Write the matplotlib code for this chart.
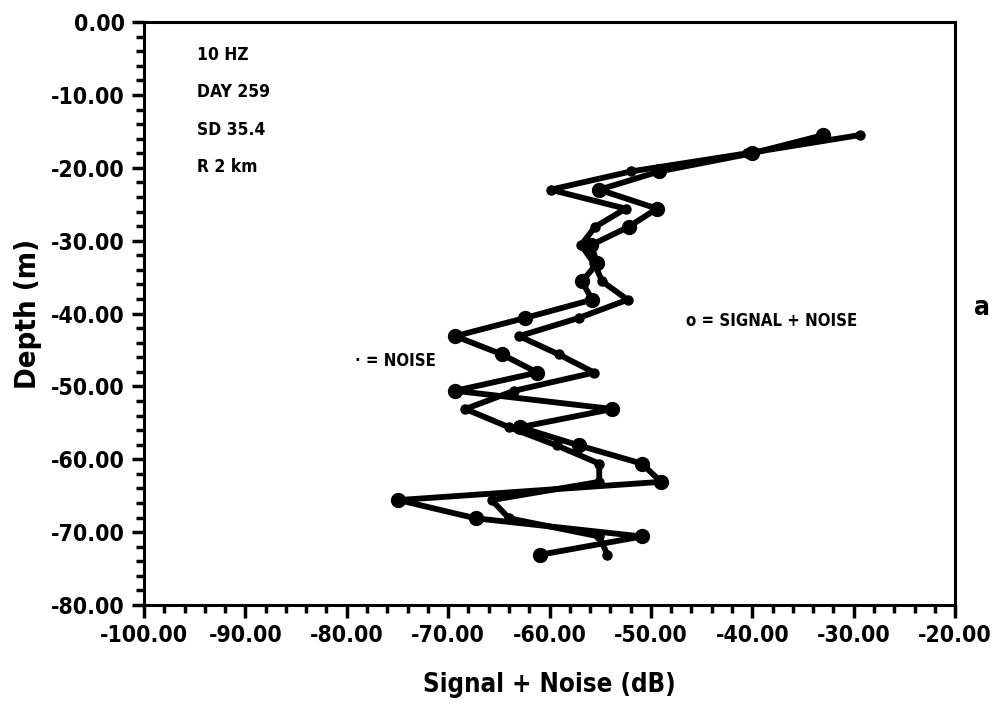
import numpy as np
import matplotlib
matplotlib.use('Agg')
import matplotlib.pyplot as plt
from matplotlib.ticker import MultipleLocator, FormatStrFormatter

plt.rcParams['font.family'] = ['DejaVu Sans']
plt.rcParams['font.stretch'] = 'condensed'
plt.rcParams['font.weight'] = 'bold'
plt.rcParams['axes.labelweight'] = 'bold'

# depth of each measurement (m)
depth = [-15.5, -18.0, -20.5, -23.0, -25.6, -28.1, -30.6, -33.1, -35.6, -38.1,
         -40.6, -43.1, -45.6, -48.1, -50.6, -53.1, -55.6, -58.1, -60.6, -63.1,
         -65.6, -68.1, -70.6, -73.1]

# signal + noise level (dB), big dots
signal = [-33.0, -40.0, -49.2, -55.1, -49.4, -52.2, -55.9, -55.3, -56.8, -55.8,
          -62.4, -69.3, -64.7, -61.2, -69.3, -53.8, -62.9, -57.1, -50.9, -49.0,
          -74.9, -67.3, -50.9, -60.9]

# noise level (dB), small dots
noise = [-29.4, -40.5, -52.0, -59.9, -52.5, -55.5, -56.9, -55.6, -54.8, -52.3,
         -57.1, -63.0, -59.1, -55.6, -63.5, -68.3, -64.0, -59.3, -55.1, -55.1,
         -65.7, -64.0, -55.1, -54.3]

info = ['10 HZ', 'DAY 259', 'SD 35.4', 'R 2 km']

fig = plt.figure(figsize=(9.97, 7.14), dpi=100)
ax = fig.add_axes([0.1444, 0.1527, 0.8136, 0.8163])

ax.plot(noise, depth, '-', color='black', lw=4.2, marker='o', ms=6.5, solid_capstyle='round')
ax.plot(signal, depth, '-', color='black', lw=4.2, marker='o', ms=10, solid_capstyle='round')

ax.set_xlim(-100, -20)
ax.set_ylim(-80, 0)
ax.xaxis.set_major_locator(MultipleLocator(10))
ax.xaxis.set_minor_locator(MultipleLocator(2))
ax.yaxis.set_major_locator(MultipleLocator(10))
ax.yaxis.set_minor_locator(MultipleLocator(2))
ax.xaxis.set_major_formatter(FormatStrFormatter('%.2f'))
ax.yaxis.set_major_formatter(FormatStrFormatter('%.2f'))
ax.tick_params(which='major', direction='out', length=9, width=2.5, labelsize=16.5, pad=5)
ax.tick_params(which='minor', direction='out', length=6, width=2.5)
for sp in ax.spines.values():
    sp.set_linewidth(2.2)

ax.set_xlabel('Signal + Noise (dB)', fontsize=18.5, labelpad=18)
ax.set_ylabel('Depth (m)', fontsize=21, labelpad=6)

for i, s in enumerate(info):
    ax.text(-94.8, -4.5 - 5.15 * i, s, fontsize=12.5, va='center', ha='left')

ax.text(-46.5, -41.0, 'o = SIGNAL + NOISE', fontsize=12, va='center', ha='left')
ax.text(-79.2, -46.5, '\u00b7 = NOISE', fontsize=12, va='center', ha='left')
fig.text(0.985, 0.568, 'a', fontsize=19, va='center', ha='center')

fig.savefig('out.png', dpi=100)
